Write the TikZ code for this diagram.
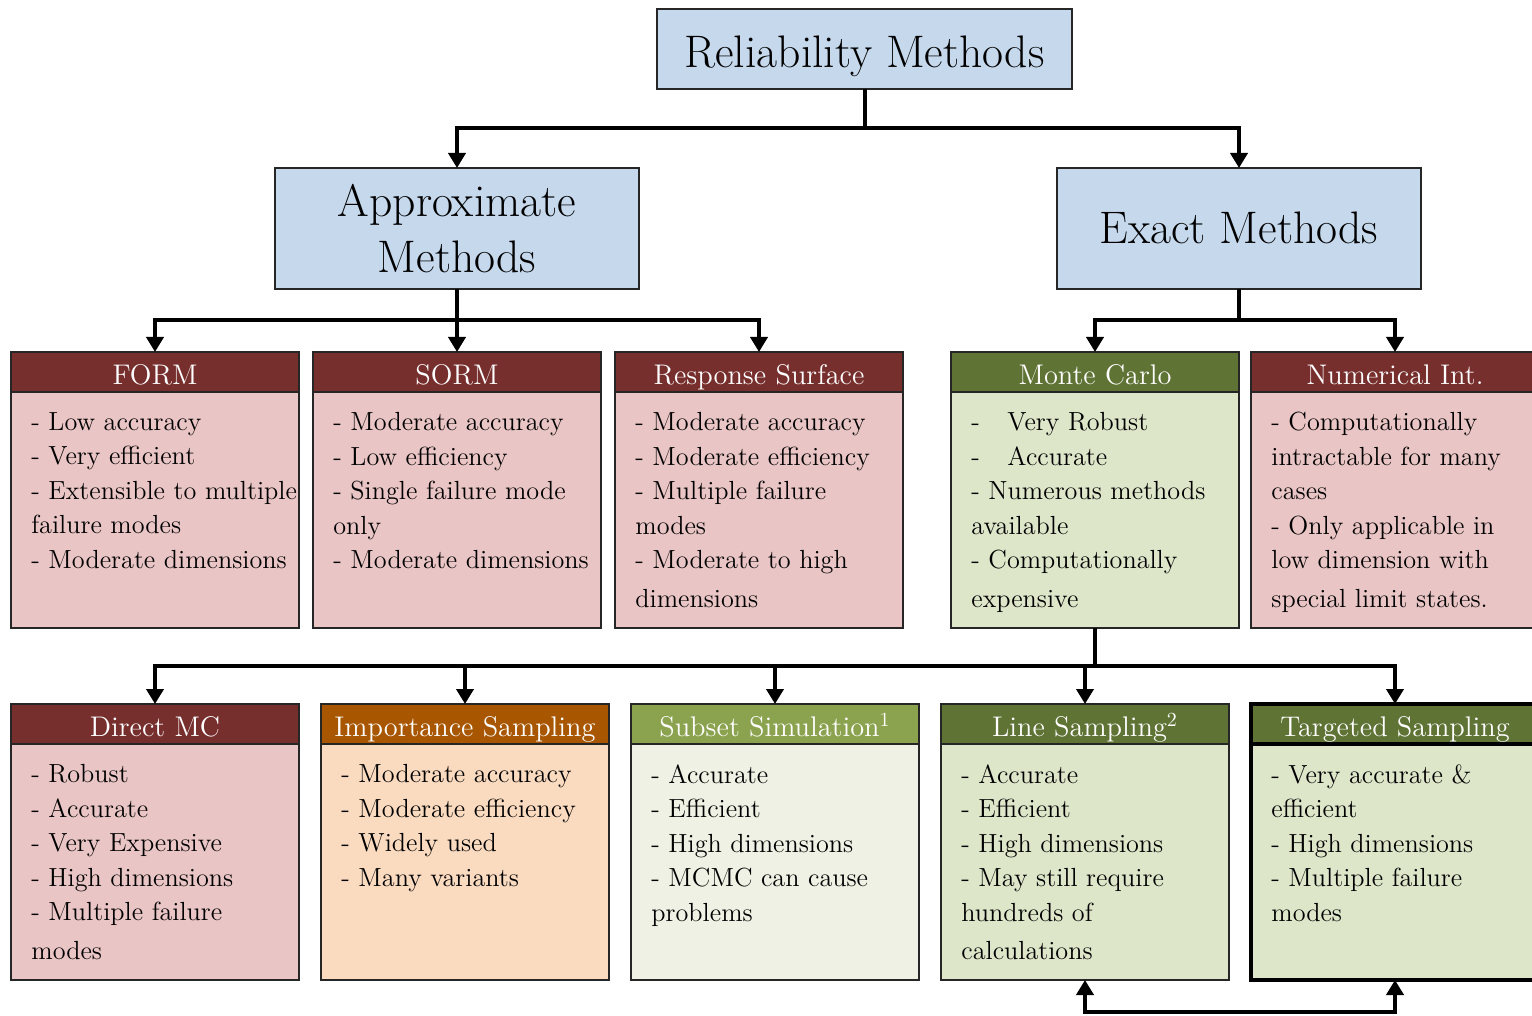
\documentclass[tikz,border=0pt]{standalone}
\usetikzlibrary{arrows.meta,positioning}
\definecolor{blueface}{HTML}{C5D8EC}
\definecolor{redhead}{HTML}{772F2E}
\definecolor{redbody}{HTML}{EAC5C5}
\definecolor{olivehead}{HTML}{5F7335}
\definecolor{olivebody}{HTML}{DEE6C9}
\definecolor{leafhead}{HTML}{8BA24E}
\definecolor{leafbody}{HTML}{EEF1E3}
\definecolor{rusthead}{HTML}{A85600}
\definecolor{rustbody}{HTML}{FBDBC0}
\begin{document}
\begin{tikzpicture}[x=0.5pt,y=-0.5pt,
	bigbox/.style={draw=black!85, line width=1pt, fill=blueface, inner sep=0pt, outer sep=0pt,
		font=\fontsize{22.8}{28}\selectfont, align=center},
	head/.style={draw=black!85, line width=1pt, text=white, inner sep=0pt, outer sep=0pt,
		minimum width=144pt, minimum height=20pt, text height=16.4pt, text depth=3.6pt,
		anchor=north west, font=\fontsize{14.2}{17}\selectfont},
	body/.style={draw=black!85, line width=1pt, inner sep=0pt, outer sep=0pt,
		minimum width=144pt, minimum height=118pt, anchor=north west},
	items/.style={inner sep=0pt, anchor=north west, align=left,
		font=\fontsize{13.1}{17.25}\selectfont},
	link/.style={line width=2pt},
	arr/.style={line width=2pt, -{Triangle[length=7.5pt,width=8.5pt]}}]
	\useasboundingbox (0,0) rectangle (1532,1016);

	% top level
	\node[bigbox, minimum width=207.5pt, minimum height=40pt, text height=29.4pt, text depth=10.6pt] (relm) at (864.5,49) {Reliability Methods};
	\node[bigbox, minimum width=182pt, minimum height=60.5pt] (approx) at (457,228.5) {Approximate\\Methods};
	\node[bigbox, minimum width=182pt, minimum height=60.5pt, text height=38pt, text depth=22.5pt] (exact) at (1239,228.5) {Exact Methods};

	% approximate methods
	\node[head, fill=redhead] (formh) at (11,352) {FORM};
	\node[body, fill=redbody] (formb) at (formh.south west) {};
	\node[items] (formt) at ([shift={(20,20)}]formb.north west)
		{- Low accuracy\\- Very efficient\\- Extensible to multiple\\failure modes\\- Moderate dimensions};

	\node[head, fill=redhead] (sormh) at (313,352) {SORM};
	\node[body, fill=redbody] (sormb) at (sormh.south west) {};
	\node[items] (sormt) at ([shift={(20,20)}]sormb.north west)
		{- Moderate accuracy\\- Low efficiency\\- Single failure mode\\only\\- Moderate dimensions};

	\node[head, fill=redhead] (rsh) at (615,352) {Response Surface};
	\node[body, fill=redbody] (rsb) at (rsh.south west) {};
	\node[items] (rst) at ([shift={(20,20)}]rsb.north west)
		{- Moderate accuracy\\- Moderate efficiency\\- Multiple failure\\modes\\- Moderate to high\\[2pt]dimensions};

	% exact methods
	\node[head, fill=olivehead] (mch) at (951,352) {Monte Carlo};
	\node[body, fill=olivebody] (mcb) at (mch.south west) {};
	\node[items] (mct) at ([shift={(20,20)}]mcb.north west)
		{-\hspace{1.05em}Very Robust\\-\hspace{1.05em}Accurate\\- Numerous methods\\available\\- Computationally\\[2pt]expensive};

	\node[head, fill=redhead] (nih) at (1251,352) {Numerical Int.};
	\node[body, fill=redbody] (nib) at (nih.south west) {};
	\node[items] (nit) at ([shift={(20,20)}]nib.north west)
		{- Computationally\\intractable for many\\cases\\- Only applicable in\\low dimension with\\[2pt]special limit states.};

	% sampling methods
	\node[head, fill=redhead] (dmch) at (11,704) {Direct MC};
	\node[body, fill=redbody] (dmcb) at (dmch.south west) {};
	\node[items] (dmct) at ([shift={(20,20)}]dmcb.north west)
		{- Robust\\- Accurate\\- Very Expensive\\- High dimensions\\- Multiple failure\\[2pt]modes};

	\node[head, fill=rusthead] (ish) at (321,704) {Importance Sampling};
	\node[body, fill=rustbody] (isb) at (ish.south west) {};
	\node[items] (ist) at ([shift={(20,20)}]isb.north west)
		{- Moderate accuracy\\- Moderate efficiency\\- Widely used\\- Many variants};

	\node[head, fill=leafhead] (ssh) at (631,704) {Subset Simulation$^{1}$};
	\node[body, fill=leafbody] (ssb) at (ssh.south west) {};
	\node[items] (sst) at ([shift={(20,20)}]ssb.north west)
		{- Accurate\\- Efficient\\- High dimensions\\- MCMC can cause\\problems};

	\node[head, fill=olivehead] (lsh) at (941,704) {Line Sampling$^{2}$};
	\node[body, fill=olivebody] (lsb) at (lsh.south west) {};
	\node[items] (lst) at ([shift={(20,20)}]lsb.north west)
		{- Accurate\\- Efficient\\- High dimensions\\- May still require\\hundreds of\\[2pt]calculations};

	\node[head, fill=olivehead, draw=black, line width=2.2pt] (tsh) at (1251,704) {Targeted Sampling};
	\node[body, fill=olivebody, draw=black, line width=2.2pt] (tsb) at (tsh.south west) {};
	\node[items] (tst) at ([shift={(20,20)}]tsb.north west)
		{- Very accurate \&\\efficient\\- High dimensions\\- Multiple failure\\modes};

	% connectors
	\coordinate (split) at (864.5,128);
	\draw[link] (relm.south) -- (split);
	\draw[arr] (split) -| (approx.north);
	\draw[arr] (split) -| (exact.north);

	\coordinate (asplit) at (457,320);
	\draw[link] (approx.south) -- (asplit);
	\foreach \t in {formh,sormh,rsh}
		\draw[arr] (asplit) -| (\t.north);

	\coordinate (esplit) at (1239,320);
	\draw[link] (exact.south) -- (esplit);
	\foreach \t in {mch,nih}
		\draw[arr] (esplit) -| (\t.north);

	\coordinate (mcsplit) at (1095,666);
	\draw[link] (mcb.south) -- (mcsplit);
	\foreach \t in {dmch,ish,ssh,lsh,tsh}
		\draw[arr] (mcsplit) -| (\t.north);

	\draw[link, {Triangle[length=7.5pt,width=8.5pt]}-{Triangle[length=7.5pt,width=8.5pt]}]
		(lsb.south) -- ++(0,32) -| (tsb.south);
\end{tikzpicture}
\end{document}
